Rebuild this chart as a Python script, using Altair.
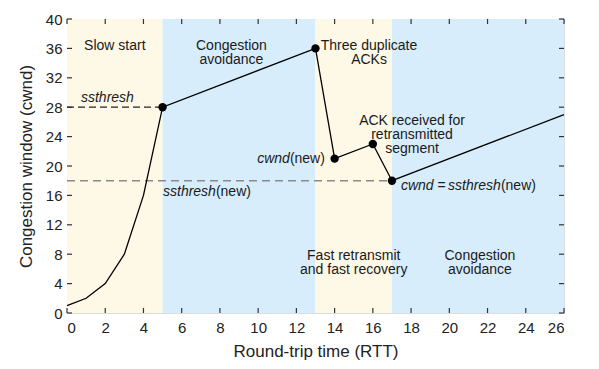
import altair as alt
import pandas as pd

# data
rtt = [0, 1, 2, 3, 4, 5, 13, 14, 16, 17, 26]
cwnd = [1, 2, 4, 8, 16, 28, 36, 21, 23, 18, 27]
marked = [False, False, False, False, False, True, True, True, True, True, False]

band_start = [0, 5, 13, 17]
band_end = [5, 13, 17, 26]
band_kind = ["ss", "ca", "fr", "ca2"]
band_colors = ["#FEF8E7", "#D8EDFC", "#FEF8E7", "#D8EDFC"]

x_ticks = list(range(0, 27, 2))
y_ticks = list(range(0, 41, 4))

old_ssthresh = 28
old_end = 5
new_ssthresh = 18
new_end = 17

note_text = ["Slow start", "Congestion\navoidance", "Three duplicate\nACKs",
             "ACK received for\nretransmitted\nsegment",
             "Fast retransmit\nand fast recovery", "Congestion\navoidance"]
note_x = [2.5, 8.6, 15.8, 18.05, 15.0, 21.6]
note_y = [37.3, 37.3, 37.3, 27.1, 8.7, 8.7]

# italic pieces: left-aligned and right-aligned
ital_l_text = ["ssthresh", "cwnd"]
ital_l_x = [0.73, 17.47]
ital_l_y = [29.2, 17.28]
ital_r_text = ["cwnd", "ssthresh", "ssthresh"]
ital_r_x = [11.66, 7.79, 22.7]
ital_r_y = [20.95, 16.46, 17.28]

plain_text = ["(new)", "(new)", "(new)"]
plain_x = [11.66, 7.79, 22.7]
plain_y = [20.95, 16.46, 17.28]
eq_text = ["="]
eq_x = [19.59]
eq_y = [17.28]

W, H = 497, 294
FONT = "Liberation Sans"
TXT = "#1a1a1a"

xs = alt.Scale(domain=[0, 26], nice=False, zero=False)
ys = alt.Scale(domain=[0, 40], nice=False)

xaxis = alt.Axis(title="Round-trip time (RTT)", values=x_ticks, ticks=False,
                 grid=False, domain=False, labelPadding=7, titlePadding=8,
                 labelFontSize=15, titleFontSize=17, labelColor="#222",
                 titleColor="#222", labelFont=FONT, titleFont=FONT,
                 titleFontWeight="normal", labelOverlap=False)
yaxis = alt.Axis(title="Congestion window (cwnd)", values=y_ticks, ticks=False,
                 grid=False, domain=False, labelPadding=5, titlePadding=10,
                 labelFontSize=15, titleFontSize=17, labelColor="#222",
                 titleColor="#222", labelFont=FONT, titleFont=FONT,
                 titleFontWeight="normal", labelOverlap=False)

bands = pd.DataFrame({"s": band_start, "e": band_end, "k": band_kind})
line_df = pd.DataFrame({"x": rtt, "y": cwnd, "m": marked})
xt = pd.DataFrame({"v": x_ticks})
yt = pd.DataFrame({"v": y_ticks})
notes = pd.DataFrame({"t": note_text, "x": note_x, "y": note_y})
notes["t"] = notes["t"].str.split("\n")


def X(f):
    return alt.X(f, scale=xs, axis=xaxis)


def Y(f):
    return alt.Y(f, scale=ys, axis=yaxis)


band_layer = alt.Chart(bands).mark_rect().encode(
    x=X("s:Q"), x2="e:Q",
    y=alt.value(0), y2=alt.value(H),
    fill=alt.Fill("k:N", scale=alt.Scale(domain=band_kind, range=band_colors), legend=None),
)

dash_old = alt.Chart(pd.DataFrame({"x": [0], "x2": [old_end], "y": [old_ssthresh]})).mark_rule(
    strokeDash=[7, 4], strokeWidth=1.2, color="#222").encode(x=X("x:Q"), x2="x2:Q", y=Y("y:Q"))
dash_new = alt.Chart(pd.DataFrame({"x": [0], "x2": [new_end], "y": [new_ssthresh]})).mark_rule(
    strokeDash=[8, 5], strokeWidth=1.5, color="#8a8a8a").encode(x=X("x:Q"), x2="x2:Q", y=Y("y:Q"))

line_layer = alt.Chart(line_df).mark_line(color="black", strokeWidth=1.3).encode(
    x=X("x:Q"), y=Y("y:Q"), order="x:Q")

pts_layer = alt.Chart(line_df).transform_filter("datum.m").mark_point(
    filled=True, color="black", size=70, opacity=1).encode(x=X("x:Q"), y=Y("y:Q"))

tick_style = dict(color="#333", strokeWidth=1.2)
top_ticks = alt.Chart(xt).mark_rule(**tick_style).encode(
    x=X("v:Q"), y=alt.value(0), y2=alt.value(5))
bot_ticks = alt.Chart(xt).mark_rule(**tick_style).encode(
    x=X("v:Q"), y=alt.value(H), y2=alt.value(H - 5))
left_ticks = alt.Chart(yt).mark_rule(**tick_style).encode(
    y=Y("v:Q"), x=alt.value(0), x2=alt.value(5))
right_ticks = alt.Chart(yt).mark_rule(**tick_style).encode(
    y=Y("v:Q"), x=alt.value(W), x2=alt.value(W - 5))

note_layer = alt.Chart(notes).mark_text(
    font=FONT, fontSize=14, color=TXT, align="center", baseline="top", lineHeight=14
).encode(x=X("x:Q"), y=Y("y:Q"), text="t")


def text_layer(texts, xv, yv, align, italic):
    df = pd.DataFrame({"t": texts, "x": xv, "y": yv})
    kw = dict(font=FONT, fontSize=14, color=TXT, align=align, baseline="middle")
    if italic:
        kw["fontStyle"] = "italic"
    return alt.Chart(df).mark_text(**kw).encode(x=X("x:Q"), y=Y("y:Q"), text="t:N")


ital_l = text_layer(ital_l_text, ital_l_x, ital_l_y, "left", True)
ital_r = text_layer(ital_r_text, ital_r_x, ital_r_y, "right", True)
plain_layer = text_layer(plain_text, plain_x, plain_y, "left", False)
eq_layer = text_layer(eq_text, eq_x, eq_y, "center", False)

chart = alt.layer(
    band_layer, dash_old, dash_new, line_layer, pts_layer,
    top_ticks, bot_ticks, left_ticks, right_ticks,
    note_layer, ital_l, ital_r, plain_layer, eq_layer,
).properties(
    width=W, height=H,
    padding={"left": 9, "top": 4, "right": 5, "bottom": 5},
).configure_view(stroke="#333", strokeWidth=1.5).configure(background="white")

chart.save("out.html", embed_options={"renderer": "svg", "actions": False})
